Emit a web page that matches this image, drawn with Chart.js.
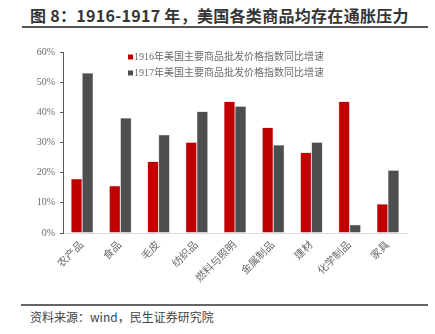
<!DOCTYPE html>
<html>
<head>
<meta charset="utf-8">
<script src="https://cdn.jsdelivr.net/npm/chart.js@4/dist/chart.umd.min.js"></script>
<style>
  body { margin: 0; width: 435px; height: 334px; background: #fff; position: relative; overflow: hidden;
         font-family: "Noto Sans CJK SC", sans-serif; }
  #title { position: absolute; left: 30px; top: 3px; font-size: 16px; font-weight: bold; color: #353535; white-space: nowrap; letter-spacing: 0.3px; }
  #tline { position: absolute; left: 22px; top: 26px; width: 406px; height: 2px; background: #555; }
  #wrap { position: absolute; left: 0; top: 40px; width: 435px; height: 260px; }
  #fline { position: absolute; left: 21px; top: 304px; width: 407px; height: 2px; background: #666; }
  #src { position: absolute; left: 30px; top: 308px; font-size: 12px; color: #444; white-space: nowrap; }
</style>
</head>
<body>
<div id="title">图 8：1916-1917 年，美国各类商品均存在通胀压力</div>
<div id="tline"></div>
<div id="wrap"><canvas id="chart" width="435" height="260"></canvas></div>
<div id="fline"></div>
<div id="src">资料来源：wind，民生证券研究院</div>
<script>
const categories = ["农产品", "食品", "毛皮", "纺织品", "燃料与照明", "金属制品", "建材", "化学制品", "家具"];
const series1916 = [18.0, 15.7, 23.7, 30.1, 43.6, 35.0, 26.7, 43.6, 9.6];
const series1917 = [53.0, 38.1, 32.6, 40.3, 42.0, 29.2, 30.1, 2.7, 20.8];
const seriesLabels = ["1916年美国主要商品批发价格指数同比增速", "1917年美国主要商品批发价格指数同比增速"];
const yTicks = ["0%", "10%", "20%", "30%", "40%", "50%", "60%"];

const serif = "'Liberation Serif', 'Noto Sans CJK SC', serif";

// legend drawn inside the plot, top-left like the source
const legendInside = {
  id: "legendInside",
  afterDraw(chart) {
    const ctx = chart.ctx;
    ctx.save();
    ctx.font = "10px " + serif;
    ctx.textBaseline = "middle";
    chart.data.datasets.forEach((ds, i) => {
      const y = 17 + i * 16;
      ctx.fillStyle = ds.backgroundColor;
      ctx.fillRect(128, y - 2.5, 5, 5);
      ctx.fillStyle = "#6b6b6b";
      ctx.fillText(ds.label, 134, y);
    });
    ctx.restore();
  }
};

new Chart(document.getElementById("chart"), {
  type: "bar",
  data: {
    labels: categories,
    datasets: [
      { label: seriesLabels[0], data: series1916, backgroundColor: "#C00000", borderColor: "#d9a0a0", borderWidth: 0.5 },
      { label: seriesLabels[1], data: series1917, backgroundColor: "#4D4E50", borderColor: "#aaaaaa", borderWidth: 0.5 }
    ]
  },
  options: {
    responsive: false,
    animation: false,
    devicePixelRatio: 1,
    layout: { padding: { top: 12, right: 28, left: 0, bottom: 0 } },
    datasets: { bar: { categoryPercentage: 0.58, barPercentage: 1.0 } },
    plugins: { legend: { display: false }, tooltip: { enabled: false } },
    scales: {
      x: {
        grid: { display: false, drawTicks: false },
        border: { display: true, color: "#d9d9d9", width: 1 },
        ticks: { color: "#6b6b6b", font: { family: serif, size: 10.5 }, maxRotation: 45, minRotation: 45, padding: 6, autoSkip: false },
        afterFit(s) { s.height = 67; }
      },
      y: {
        min: 0, max: 60,
        grid: { drawOnChartArea: false, drawTicks: true, tickLength: 3, color: "#595959" },
        border: { display: true, color: "#595959", width: 1 },
        ticks: {
          stepSize: 10, color: "#6b6b6b", padding: 5,
          font: { family: serif, size: 10 },
          callback: (v) => yTicks[Math.round(v / 10)]
        },
        afterFit(s) { s.width = 63; }
      }
    }
  },
  plugins: [legendInside]
});
</script>
</body>
</html>
